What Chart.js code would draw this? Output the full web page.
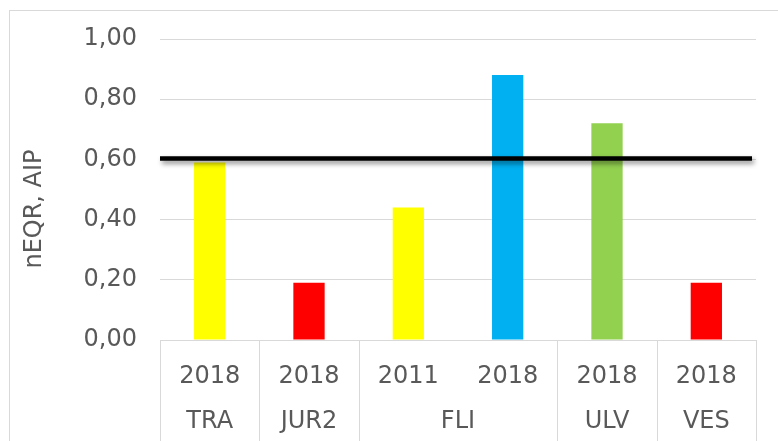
<!DOCTYPE html>
<html>
<head>
<meta charset="utf-8">
<script src="https://cdn.jsdelivr.net/npm/chart.js@4.4.1/dist/chart.umd.min.js"></script>
<style>
  html, body { margin: 0; padding: 0; background: #fff; }
  #wrap { width: 778px; height: 441px; }
</style>
</head>
<body>
<div id="wrap"><canvas id="chart" width="778" height="441"></canvas></div>
<script>
// data
const years = ["2018", "2018", "2011", "2018", "2018", "2018"];
const sites = ["TRA", "JUR2", "FLI", "FLI", "ULV", "VES"];
const values = [0.59, 0.19, 0.44, 0.88, 0.72, 0.19];
const barColors = ["#FFFF00", "#FF0000", "#FFFF00", "#00B0F0", "#92D050", "#FF0000"];
const yTicks = [0, 0.2, 0.4, 0.6, 0.8, 1.0];
const threshold = 0.6;
const yTitle = "nEQR, AIP";

const fontFamily = "'DejaVu Sans', Verdana, sans-serif";
const textColor = "#595959";
const gridColor = "#d9d9d9";

// kader rond de grafiek + y-titel
const framePlugin = {
  id: "frame",
  beforeDraw(chart) {
    const ctx = chart.ctx;
    ctx.save();
    ctx.strokeStyle = gridColor;
    ctx.lineWidth = 1;
    ctx.strokeRect(9.5, 10.5, 800, 500);
    ctx.translate(35, 209);
    ctx.rotate(-Math.PI / 2);
    ctx.fillStyle = textColor;
    ctx.font = "24px " + fontFamily;
    ctx.textAlign = "center";
    ctx.textBaseline = "middle";
    ctx.fillText(yTitle, 0, 0);
    ctx.restore();
  },
};

// tweede rij labels (locaties) + scheidingslijnen
const groupAxisPlugin = {
  id: "groupAxis",
  afterDraw(chart) {
    const ctx = chart.ctx;
    const x = chart.scales.x;
    const area = chart.chartArea;
    const half = (x.getPixelForValue(1) - x.getPixelForValue(0)) / 2;
    ctx.save();
    ctx.strokeStyle = gridColor;
    ctx.lineWidth = 1;
    // groepen bepalen
    const groups = [];
    sites.forEach((s, i) => {
      const last = groups[groups.length - 1];
      if (last && last.name === s) last.end = i;
      else groups.push({ name: s, start: i, end: i });
    });
    const edges = [x.getPixelForValue(0) - half];
    groups.forEach((g) => edges.push(x.getPixelForValue(g.end) + half));
    edges.forEach((px) => {
      const xx = Math.round(px) + 0.5;
      ctx.beginPath();
      ctx.moveTo(xx, area.bottom);
      ctx.lineTo(xx, chart.height);
      ctx.stroke();
    });
    ctx.fillStyle = textColor;
    ctx.font = "24px " + fontFamily;
    ctx.textAlign = "center";
    ctx.textBaseline = "middle";
    groups.forEach((g) => {
      const cx = (x.getPixelForValue(g.start) + x.getPixelForValue(g.end)) / 2;
      ctx.fillText(g.name, cx, 422);
    });
    ctx.restore();
  },
};

// drempellijn 0,60 met schaduw
const thresholdPlugin = {
  id: "threshold",
  afterDatasetsDraw(chart) {
    const ctx = chart.ctx;
    const area = chart.chartArea;
    const y = chart.scales.y.getPixelForValue(threshold);
    ctx.save();
    ctx.shadowColor = "rgba(0,0,0,0.45)";
    ctx.shadowBlur = 5;
    ctx.shadowOffsetX = 2;
    ctx.shadowOffsetY = 3;
    ctx.strokeStyle = "#000";
    ctx.lineWidth = 4.5;
    ctx.beginPath();
    ctx.moveTo(area.left, y - 1);
    ctx.lineTo(area.right - 4, y - 1);
    ctx.stroke();
    ctx.restore();
  },
};

const ctx = document.getElementById("chart").getContext("2d");
const chart = new Chart(ctx, {
  type: "bar",
  data: {
    labels: years,
    datasets: [
      {
        data: values,
        backgroundColor: barColors,
        barPercentage: 0.315,
        categoryPercentage: 1,
      },
    ],
  },
  options: {
    responsive: false,
    animation: false,
    devicePixelRatio: 1,
    layout: { padding: { left: 10, top: 39, right: 22, bottom: 0 } },
    plugins: { legend: { display: false }, tooltip: { enabled: false } },
    scales: {
      x: {
        grid: { display: false },
        border: { display: true, color: gridColor },
        ticks: {
          color: textColor,
          font: { family: fontFamily, size: 24 },
          padding: 14,
          maxRotation: 0,
        },
        afterFit(scale) {
          scale.height = 101;
        },
      },
      y: {
        min: 0,
        max: 1,
        afterBuildTicks(scale) {
          scale.ticks = yTicks.map((v) => ({ value: v }));
        },
        grid: { color: gridColor, drawTicks: false },
        border: { display: false },
        ticks: {
          color: textColor,
          font: { family: fontFamily, size: 24 },
          padding: 23,
          callback: (v) => v.toFixed(2).replace(".", ","),
        },
        afterFit(scale) {
          scale.width = 150;
        },
      },
    },
  },
  plugins: [framePlugin, groupAxisPlugin, thresholdPlugin],
});
</script>
</body>
</html>
